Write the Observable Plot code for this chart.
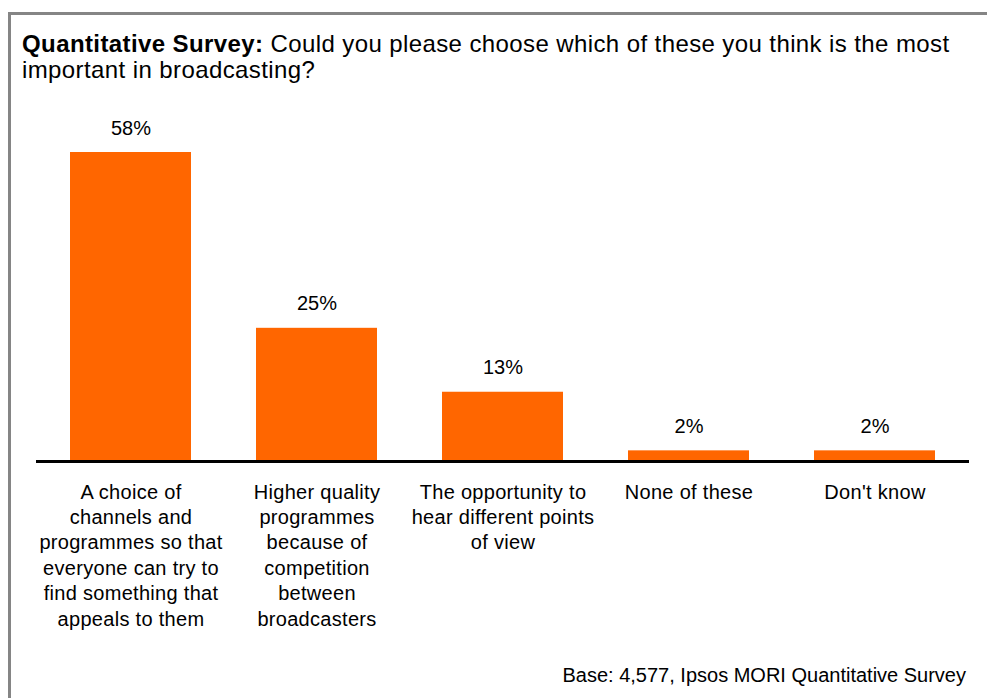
<!DOCTYPE html>
<html>
<head>
<meta charset="utf-8">
<script src="https://cdn.jsdelivr.net/npm/d3@7"></script>
<script src="https://cdn.jsdelivr.net/npm/@observablehq/plot@0.6"></script>
<style>
  html, body { margin: 0; padding: 0; background: #fff; overflow: hidden; }
  body { width: 987px; height: 698px; position: relative; font-family: "Liberation Sans", Arial, sans-serif; color: #000; }
  #frame { position: absolute; left: 8px; top: 12px; width: 1000px; height: 720px; border-top: 3px solid #858585; border-left: 3px solid #858585; box-sizing: border-box; z-index: 2; }
  #title { position: absolute; left: 22px; top: 31px; font-size: 24px; line-height: 26px; letter-spacing: 0.4px; white-space: nowrap; z-index: 3; }
  #footer { position: absolute; right: 21px; top: 664px; font-size: 20px; line-height: 23px; white-space: nowrap; z-index: 3; }
  #chart { position: absolute; left: 0; top: 0; z-index: 1; }
  #chart svg g[aria-label="x-axis tick label"] text { letter-spacing: 0.3px; }
</style>
</head>
<body>
<div id="frame"></div>
<div id="title"><b>Quantitative Survey:</b> Could you please choose which of these you think is the most<br>important in broadcasting?</div>
<div id="chart"></div>
<div id="footer">Base: 4,577, Ipsos MORI Quantitative Survey</div>
<script>
const categories = ["choice", "quality", "opportunity", "none", "dontknow"];
const tickLabels = [
  "A choice of\nchannels and\nprogrammes so that\neveryone can try to\nfind something that\nappeals to them",
  "Higher quality\nprogrammes\nbecause of\ncompetition\nbetween\nbroadcasters",
  "The opportunity to\nhear different points\nof view",
  "None of these",
  "Don't know"
];
const values = [58, 25, 13, 2, 2];
const valueLabels = ["58%", "25%", "13%", "2%", "2%"];

const data = categories.map((c, i) => ({category: c, value: values[i], label: valueLabels[i]}));

const chart = Plot.plot({
  width: 987,
  height: 698,
  marginTop: 152,
  marginBottom: 237,
  marginLeft: 36,
  marginRight: 18,
  style: {background: "transparent", fontFamily: "'Liberation Sans', Arial, sans-serif", color: "#000"},
  x: {domain: categories, paddingInner: 0.35, paddingOuter: 0.17, label: null},
  y: {domain: [0, 58], axis: null},
  marks: [
    Plot.barY(data, {x: "category", y: "value", fill: "#FF6600"}),
    Plot.ruleY([0], {stroke: "#000", strokeWidth: 3}),
    Plot.text(data, {x: "category", y: "value", text: "label", dy: -18, lineAnchor: "bottom", fontSize: 20, fill: "#000"}),
    Plot.axisX({
      tickSize: 0,
      tickPadding: 19,
      fontSize: 20,
      lineHeight: 1.27,
      label: null,
      tickFormat: (d) => tickLabels[categories.indexOf(d)],
      fill: "#000"
    })
  ]
});
document.getElementById("chart").appendChild(chart);
</script>
</body>
</html>
